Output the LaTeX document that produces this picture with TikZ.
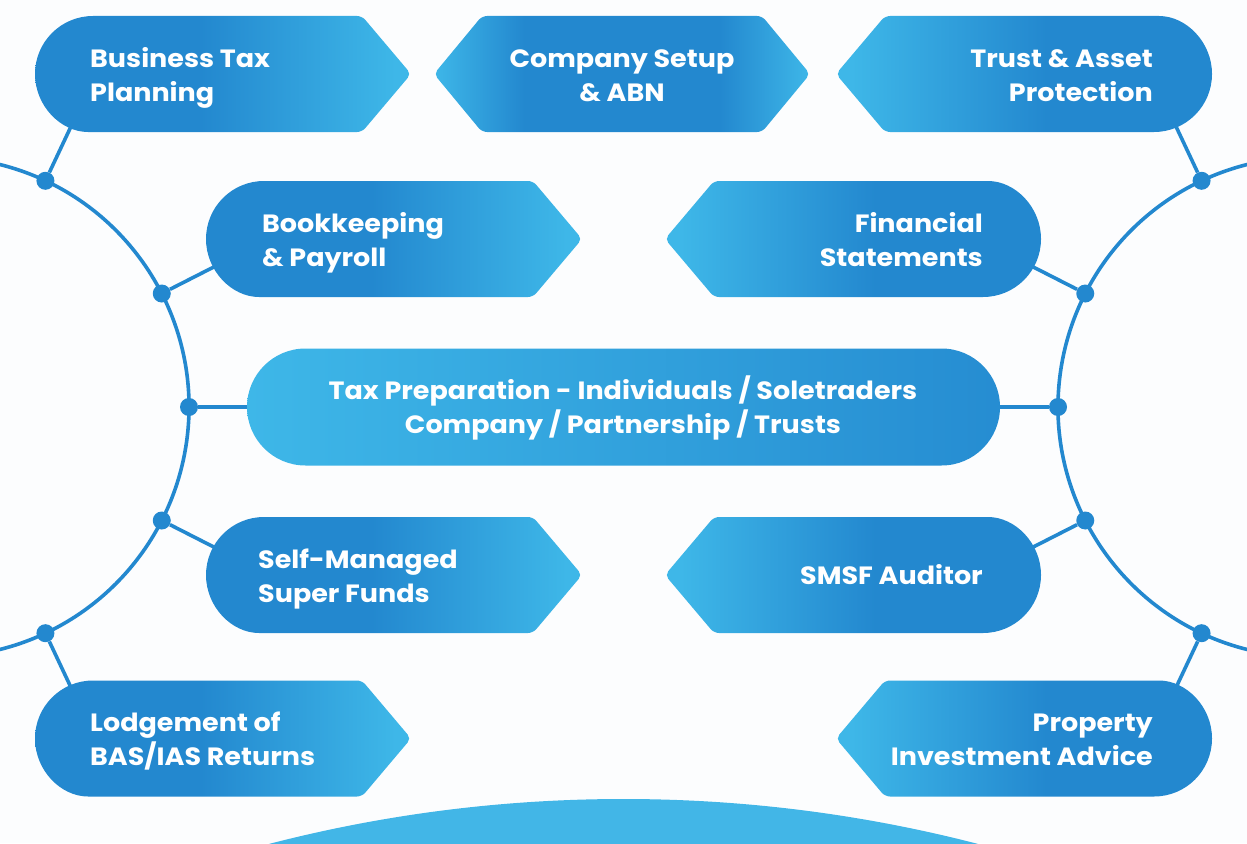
\documentclass[tikz,border=0pt]{standalone}
\usepackage{fontspec}
\setmainfont{Poppins}[FakeStretch=1.08]
\usetikzlibrary{calc}

\definecolor{bluedark}{HTML}{2388CF}
\definecolor{bluelight}{HTML}{3EB7E8}
\definecolor{bluebase}{HTML}{42B6E7}
\definecolor{paper}{HTML}{FCFDFE}

% fades inside the pointed boxes
\pgfdeclarehorizontalshading{fadeR}{100bp}{color(0bp)=(bluedark); color(25bp)=(bluedark); color(47bp)=(bluedark); color(73bp)=(bluelight); color(100bp)=(bluelight)}
\pgfdeclarehorizontalshading{fadeL}{100bp}{color(0bp)=(bluelight); color(27bp)=(bluelight); color(53bp)=(bluedark); color(75bp)=(bluedark); color(100bp)=(bluedark)}
\pgfdeclarehorizontalshading{fadeLR}{100bp}{color(0bp)=(bluelight); color(25bp)=(bluelight); color(37bp)=(bluedark); color(63bp)=(bluedark); color(75bp)=(bluelight); color(100bp)=(bluelight)}

\begin{document}
\begin{tikzpicture}[
        x=1pt, y=-1pt,
        link/.style={draw=bluedark, line width=3.6pt},
        hub/.style={circle, fill=bluedark, inner sep=0pt, minimum size=18pt},
        txt/.style={text=white, inner sep=0pt, font=\fontsize{25}{34}\selectfont\bfseries},
        goright/.style={shading=fadeR},
        goleft/.style={shading=fadeL},
        gotwo/.style={shading=fadeLR},
        gomid/.style={left color=bluelight, right color=bluedark!90!bluelight},
      ]

      \useasboundingbox (0,0) rectangle (1247,843);
      \fill[paper] (0,0) rectangle (1247,843);

      \coordinate (lc) at (-61,407);
      \coordinate (rc) at (1308,407);

      \begin{scope}
        \clip (0,0) rectangle (1247,843);
        \fill[bluebase] (623.5,2209) circle[radius=1410];
        \draw[link] ([shift={(-80:250)}]lc) arc[start angle=-80, end angle=80, radius=250];
        \draw[link] ([shift={(100:250)}]rc) arc[start angle=100, end angle=260, radius=250];
      \end{scope}

      % hubs on the two arcs
      \node[hub] (l1) at ([shift={(-64.8:250)}]lc) {};
      \node[hub] (l2) at ([shift={(-27:250)}]lc) {};
      \node[hub] (l3) at ([shift={(0:250)}]lc) {};
      \node[hub] (l4) at ([shift={(27:250)}]lc) {};
      \node[hub] (l5) at ([shift={(64.8:250)}]lc) {};
      \node[hub] (r1) at ([shift={(244.8:250)}]rc) {};
      \node[hub] (r2) at ([shift={(207:250)}]rc) {};
      \node[hub] (r3) at ([shift={(180:250)}]rc) {};
      \node[hub] (r4) at ([shift={(153:250)}]rc) {};
      \node[hub] (r5) at ([shift={(115.2:250)}]rc) {};

      \draw[link] (l1) -- ([shift={(-64.8:330)}]lc);
      \draw[link] (l2) -- ([shift={(-27:330)}]lc);
      \draw[link] (l3) -- ([shift={(0:330)}]lc);
      \draw[link] (l4) -- ([shift={(27:330)}]lc);
      \draw[link] (l5) -- ([shift={(64.8:330)}]lc);
      \draw[link] (r1) -- ([shift={(244.8:330)}]rc);
      \draw[link] (r2) -- ([shift={(207:330)}]rc);
      \draw[link] (r3) -- ([shift={(180:330)}]rc);
      \draw[link] (r4) -- ([shift={(153:330)}]rc);
      \draw[link] (r5) -- ([shift={(115.2:330)}]rc);

      % top row
      \shade[goright] (93,132) arc[start angle=90, end angle=270, radius=58] [rounded corners=5pt] -- (362,16) -- (411,74) -- (362,132) -- cycle;
      \shade[gotwo, rounded corners=5pt] (434,74) -- (482,16) -- (762,16) -- (810,74) -- (762,132) -- (482,132) -- cycle;
      \shade[goleft] (1154,16) arc[start angle=-90, end angle=90, radius=58] [rounded corners=5pt] -- (885,132) -- (836,74) -- (885,16) -- cycle;

      % second row
      \shade[goright] (264,297) arc[start angle=90, end angle=270, radius=58] [rounded corners=5pt] -- (533,181) -- (582,239) -- (533,297) -- cycle;
      \shade[goleft] (983,181) arc[start angle=-90, end angle=90, radius=58] [rounded corners=5pt] -- (714,297) -- (665,239) -- (714,181) -- cycle;

      % middle pill
      \shade[gomid] (305.5,348.5) -- (941.5,348.5) arc[start angle=-90, end angle=90, radius=58.5] -- (305.5,465.5) arc[start angle=90, end angle=270, radius=58.5] -- cycle;

      % fourth row
      \shade[goright] (264,633) arc[start angle=90, end angle=270, radius=58] [rounded corners=5pt] -- (533,517) -- (582,575) -- (533,633) -- cycle;
      \shade[goleft] (983,517) arc[start angle=-90, end angle=90, radius=58] [rounded corners=5pt] -- (714,633) -- (665,575) -- (714,517) -- cycle;

      % bottom row
      \shade[goright] (93,796.5) arc[start angle=90, end angle=270, radius=58] [rounded corners=5pt] -- (362,680.5) -- (411,738.5) -- (362,796.5) -- cycle;
      \shade[goleft] (1154,680.5) arc[start angle=-90, end angle=90, radius=58] [rounded corners=5pt] -- (885,796.5) -- (836,738.5) -- (885,680.5) -- cycle;

      % labels, anchored on the baseline of their last line
      \node[txt, anchor=base west, align=left] (btp) at (90,101) {Business Tax\\Planning};
      \node[txt, anchor=base, align=center] (csa) at (622,101) {Company Setup\\\& ABN};
      \node[txt, anchor=base east, align=right] (tap) at (1153,101) {Trust \& Asset\\Protection};
      \node[txt, anchor=base west, align=left] (bkp) at (262,266) {Bookkeeping\\\& Payroll};
      \node[txt, anchor=base east, align=right] (fst) at (983,266) {Financial\\Statements};
      \node[txt, anchor=base, align=center] (taxprep) at (623,433) {Tax Preparation - Individuals / Soletraders\\Company / Partnership / Trusts};
      \node[txt, anchor=base west, align=left] (smsf) at (258,602) {Self-Managed\\Super Funds};
      \node[txt, anchor=base east] (auditor) at (983,584) {SMSF Auditor};
      \node[txt, anchor=base west, align=left] (lodge) at (90,765) {Lodgement of\\BAS/IAS Returns};
      \node[txt, anchor=base east, align=right] (property) at (1153,765) {Property\\Investment Advice};

    \end{tikzpicture}
\end{document}
